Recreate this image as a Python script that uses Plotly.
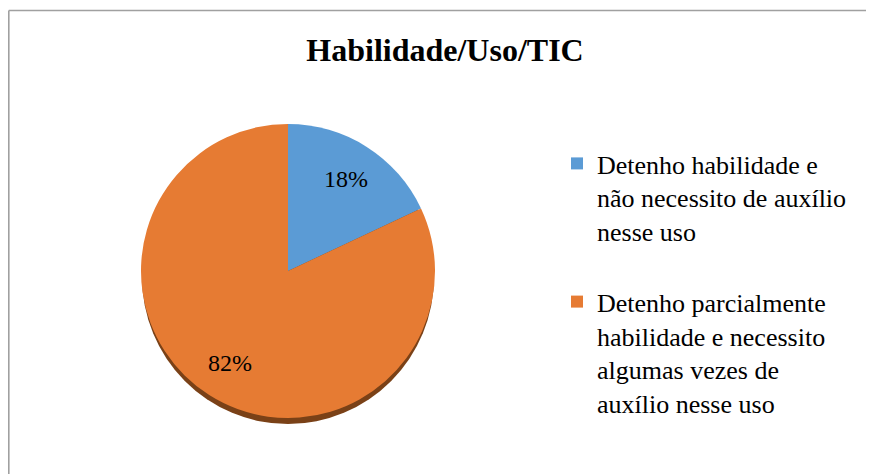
import math
import plotly.graph_objects as go

labels = [
    "Detenho habilidade e<br>não necessito de auxílio<br>nesse uso<br> ",
    "Detenho parcialmente<br>habilidade e necessito<br>algumas vezes de<br>auxílio nesse uso",
]
values = [18, 82]
colors = ["#5B9BD5", "#E67B33"]

SERIF = "Liberation Serif, Times New Roman, serif"

# page has an 8px body margin, so the figure is drawn from (8, 8)
W, H = 866, 466
cx, cy, r = 280, 263, 147

fig = go.Figure()
fig.add_trace(go.Pie(
    labels=labels,
    values=values,
    sort=False,
    direction="clockwise",
    rotation=0,
    marker=dict(colors=colors, line=dict(width=0)),
    textinfo="none",
    domain=dict(x=[(cx - r) / W, (cx + r) / W], y=[1 - (cy + r) / H, 1 - (cy - r) / H]),
    showlegend=True,
))

# percentage labels placed along each slice's mid-angle (as the original chart does)
total = sum(values)
annotations = []
start = 0.0
for v in values:
    frac = v / total
    mid = (start + frac / 2) * 2 * math.pi
    start += frac
    d = 0.74 * r
    px = cx + d * math.sin(mid)
    py = cy - d * math.cos(mid)
    annotations.append(dict(
        x=px / W, y=1 - py / H, xref="paper", yref="paper",
        text=f"{round(frac * 100)}%", showarrow=False,
        xanchor="center", yanchor="middle",
        font=dict(family=SERIF, size=24, color="black"),
    ))

fig.update_layout(
    width=W, height=H,
    margin=dict(l=0, r=0, t=0, b=0),
    paper_bgcolor="white",
    plot_bgcolor="white",
    title=dict(
        text="<b>Habilidade/Uso/TIC</b>",
        x=437 / W, y=1 - 42 / H, xref="paper", yref="paper",
        xanchor="center", yanchor="middle",
        font=dict(family=SERIF, size=32, color="black"),
    ),
    legend=dict(
        x=549 / W, y=1 - 132 / H, xanchor="left", yanchor="top",
        font=dict(family=SERIF, size=26, color="black"),
        valign="top",
        itemwidth=30,
        bgcolor="rgba(0,0,0,0)",
    ),
    annotations=annotations,
    shapes=[
        dict(type="circle", xref="paper", yref="paper", layer="below",
             x0=(cx - r + 1) / W, x1=(cx + r - 1) / W,
             y0=1 - (cy + r + 6) / H, y1=1 - (cy - r + 6) / H,
             fillcolor="#7A4117", line=dict(width=0)),
        dict(type="line", xref="paper", yref="paper", x0=0.8 / W, x1=1, y0=1 - 2.5 / H, y1=1 - 2.5 / H,
             line=dict(color="#A0A0A0", width=1.6)),
        dict(type="line", xref="paper", yref="paper", x0=0.8 / W, x1=0.8 / W, y0=0, y1=1 - 2.5 / H,
             line=dict(color="#A0A0A0", width=1.6)),
    ],
)

fig.write_html("out.html")
